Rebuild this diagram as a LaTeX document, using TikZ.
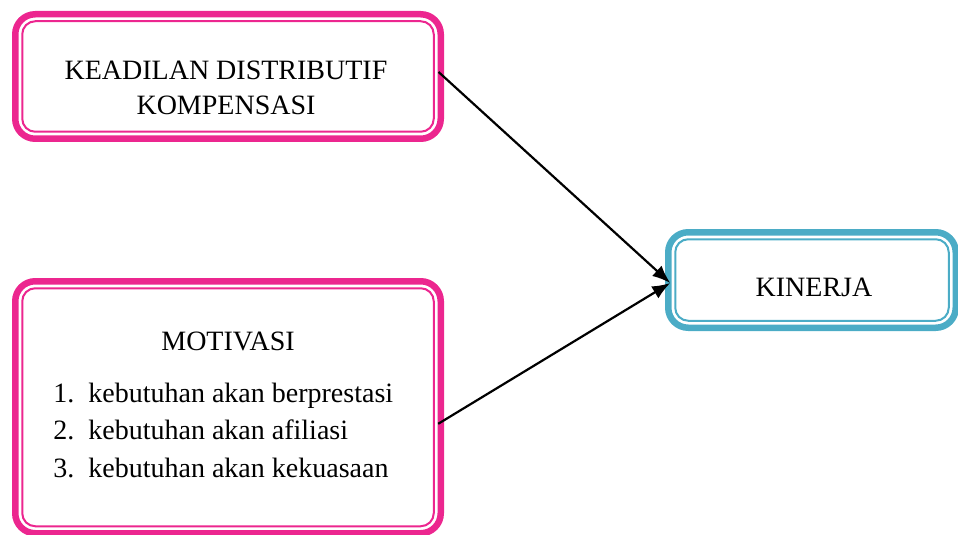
\documentclass[tikz,border=0pt]{standalone}
\usepackage{fontspec}
\setmainfont{Liberation Serif}
\usetikzlibrary{arrows.meta,calc}
\definecolor{framepink}{RGB}{236,38,143}
\definecolor{frameblue}{RGB}{75,172,198}

\begin{document}
\begin{tikzpicture}[x=0.5pt,y=-0.5pt,
    frame/.style={draw=#1, line width=3.25pt, rounded corners=10pt, inner sep=0pt, outer sep=0pt,
        path picture={\draw[#1, line width=1pt, rounded corners=6.5pt]
            ([shift={(3.5pt,-3.5pt)}]path picture bounding box.north west) rectangle
            ([shift={(-3.5pt,3.5pt)}]path picture bounding box.south east);}},
    teks/.style={font=\fontsize{14}{17.35}\selectfont, inner sep=0pt},
    panah/.style={-{Latex[length=9pt,width=7pt]}, line width=1.1pt}]
    \useasboundingbox (0,0) rectangle (958,535);
    % kotak
    \node[frame=framepink, minimum width=212.75pt, minimum height=62.25pt] (keadilan) at (228,76.5) {};
    \node[frame=framepink, minimum width=212.75pt, minimum height=126pt] (motivasi) at (228,407.25) {};
    \node[frame=frameblue, minimum width=143.75pt, minimum height=47.75pt] (kinerja) at (812,280) {};
    % teks
    \node[teks, anchor=base, align=center] (judulKeadilan) at (226,114) {KEADILAN DISTRIBUTIF\\KOMPENSASI};
    \node[teks, anchor=base] (judulMotivasi) at (228,350) {MOTIVASI};
    \node[teks, anchor=base west] (daftarMotivasi) at (53,402) {%
        \begin{tabular}[t]{@{}p{17.5pt}@{}l@{}}
            1. & kebutuhan akan berprestasi\\[1.4pt]
            2. & kebutuhan akan afiliasi\\[1.4pt]
            3. & kebutuhan akan kekuasaan
        \end{tabular}};
    \node[teks, anchor=base] (teksKinerja) at (814,296) {KINERJA};
    % panah
    \draw[panah, shorten <=-1.5pt] ([yshift=1.25pt]keadilan.east) -- ([xshift=1pt,yshift=-1.5pt]kinerja.west);
    \draw[panah, shorten <=-1.5pt] ([yshift=-7.5pt]motivasi.east) -- ([xshift=1pt,yshift=-1.5pt]kinerja.west);
\end{tikzpicture}
\end{document}
